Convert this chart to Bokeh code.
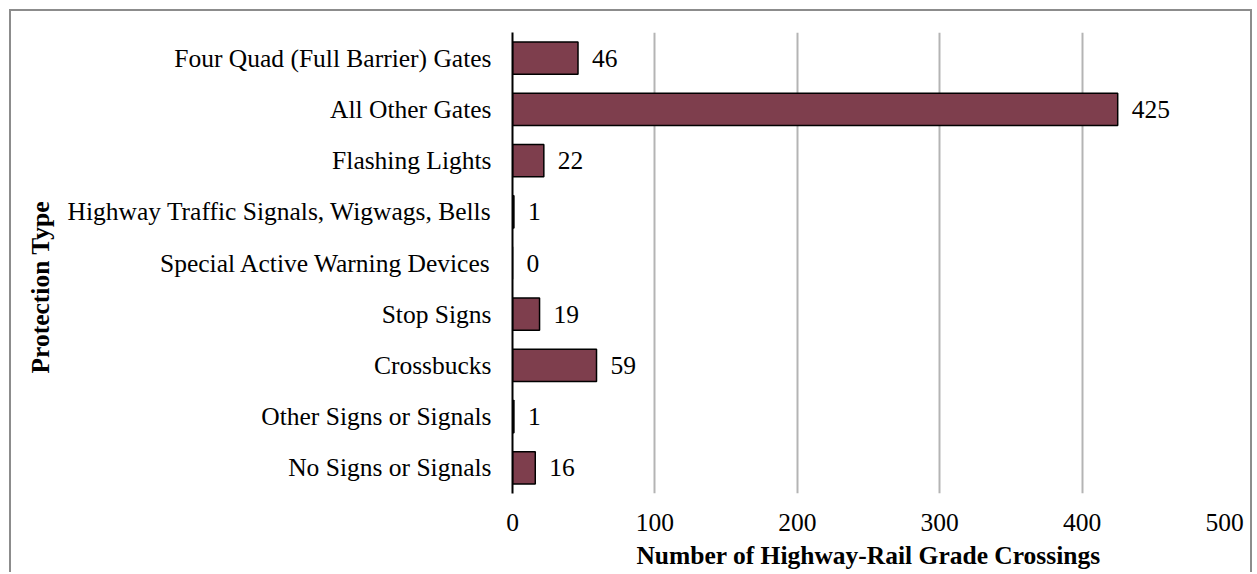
from bokeh.plotting import figure
from bokeh.models import FactorRange, Range1d, ColumnDataSource, Title
from bokeh.core.properties import value
from bokeh.embed import file_html
from bokeh.resources import INLINE

categories = [
    "Four Quad (Full Barrier) Gates",
    "All Other Gates",
    "Flashing Lights",
    "Highway Traffic Signals, Wigwags, Bells",
    "Special Active Warning Devices",
    "Stop Signs",
    "Crossbucks",
    "Other Signs or Signals",
    "No Signs or Signals",
]
counts = [46, 425, 22, 1, 0, 19, 59, 1, 16]
x_ticks = [0, 100, 200, 300, 400, 500]

FONT = "Liberation Serif"
FS = "25.5px"

src = ColumnDataSource(dict(cat=categories, val=counts, lab=[str(v) for v in counts]))

W, H = 1243, 563
p = figure(
    width=W, height=H,
    y_range=FactorRange(factors=list(reversed(categories))),
    x_range=Range1d(0, 500),
    output_backend="svg", toolbar_location=None,
    min_border_left=501, min_border_right=30, min_border_top=21, min_border_bottom=81,
)
p.styles = {"margin-left": "9px", "margin-top": "9px",
            "border-left": "2px solid #8c8c8c", "border-top": "2px solid #8c8c8c",
            "border-right": "2px solid #8c8c8c"}
p.outline_line_color = None
p.background_fill_color = "white"
p.border_fill_color = "white"

p.hbar(y="cat", right="val", left=0, height=0.63, source=src,
       fill_color="#7E3E4D", line_color="black", line_width=1.5)
p.text(x="val", y="cat", text="lab", source=src, x_offset=14,
       text_align="left", text_baseline="middle",
       text_font=value(FONT), text_font_size=FS, text_color="black")

p.xaxis.ticker = x_ticks
p.xaxis.axis_line_color = None
p.xaxis.major_tick_line_color = None
p.xaxis.minor_tick_line_color = None
p.xaxis.major_label_text_font = FONT
p.xaxis.major_label_text_font_size = FS
p.xaxis.major_label_text_color = "black"
p.xaxis.major_label_standoff = 14
p.xaxis.axis_label = "Number of Highway-Rail Grade Crossings"
p.xaxis.axis_label_text_font = FONT
p.xaxis.axis_label_text_font_size = FS
p.xaxis.axis_label_text_font_style = "bold"
p.xaxis.axis_label_text_color = "black"
p.xaxis.axis_label_standoff = 7

p.yaxis.axis_line_color = "black"
p.yaxis.axis_line_width = 2
p.yaxis.major_tick_line_color = None
p.yaxis.minor_tick_line_color = None
p.yaxis.major_label_text_font = FONT
p.yaxis.major_label_text_font_size = FS
p.yaxis.major_label_text_color = "black"
p.yaxis.major_label_standoff = 15

p.xgrid.grid_line_color = "#b4b4b4"
p.xgrid.grid_line_width = 2
p.ygrid.grid_line_color = None

ytitle = Title(text="Protection Type", align="left", offset=120, standoff=20,
               text_font=FONT, text_font_size=FS, text_font_style="bold",
               text_color="black")
p.add_layout(ytitle, "left")

open("out.html", "w").write(file_html(p, INLINE))
